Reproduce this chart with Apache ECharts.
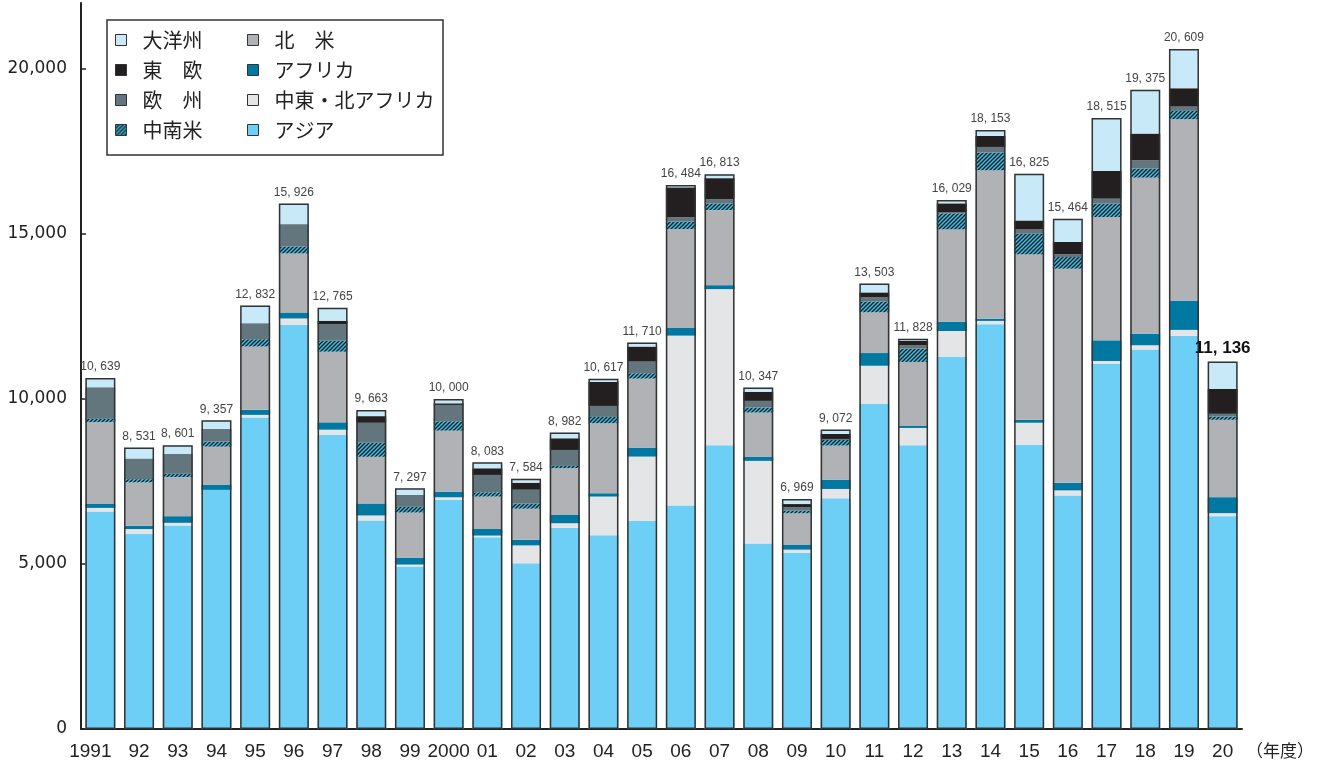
<!DOCTYPE html>
<html>
<head>
<meta charset="utf-8">
<script src="https://cdn.jsdelivr.net/npm/echarts@6/dist/echarts.min.js"></script>
<style>html,body{margin:0;padding:0;background:#fff;}#c{width:1317px;height:769px;}</style>
</head>
<body>
<div id="c"></div>
<script>
const years = ['1991','92','93','94','95','96','97','98','99','2000','01','02','03','04','05','06','07','08','09','10','11','12','13','14','15','16','17','18','19','20'];
const totals = [10639,8531,8601,9357,12832,15926,12765,9663,7297,10000,8083,7584,8982,10617,11710,16484,16813,10347,6969,9072,13503,11828,16029,18153,16825,15464,18515,19375,20609,11136];
const asia = [6588,5906,6167,7246,9438,12248,8918,6319,4922,6941,5811,5019,6094,5872,6306,6769,8602,5620,5335,6991,9846,8598,11272,12266,8613,7079,11071,11497,11912,6450];
const mena = [112,152,81,0,81,192,152,152,61,81,50,545,141,1172,1949,5151,4727,2505,100,283,1162,525,788,100,667,152,81,131,182,91];
const africa = [121,100,202,161,152,182,222,364,212,172,202,172,252,100,273,232,121,131,141,283,384,61,283,70,91,232,626,354,889,485];
const northAmerica = [2476,1313,1182,1151,1919,1788,2141,1414,1364,1848,980,939,1414,2121,2091,3000,2273,1333,960,1030,1232,1939,2798,4495,5010,6485,3737,4727,5495,2343];
const latinAmerica = [100,100,100,152,222,212,333,424,172,283,131,152,70,192,161,222,202,152,81,172,333,404,485,535,626,354,404,273,252,100];
const europe = [960,627,606,384,485,677,505,606,364,495,525,424,485,333,354,131,131,202,100,30,121,100,40,172,131,81,152,252,131,81];
const easternEurope = [0,0,0,0,0,0,100,202,0,50,202,212,354,727,455,909,636,273,100,152,152,131,263,333,273,374,838,808,556,758];
const oceania = [282,333,263,263,535,627,394,182,202,130,182,121,172,100,121,70,121,131,152,131,273,70,100,182,1414,707,1606,1333,1192,828];
const yTicks = [0,5000,10000,15000,20000];

// hatch pattern for 中南米
const pc = document.createElement('canvas');
pc.width = 4; pc.height = 4;
const g = pc.getContext('2d');
g.fillStyle = '#3dbfea'; g.fillRect(0,0,4,4);
g.strokeStyle = '#1c1c1c'; g.lineWidth = 1.3;
[[0,4,4,0],[-1,1,1,-1],[3,5,5,3]].forEach(l=>{g.beginPath();g.moveTo(l[0],l[1]);g.lineTo(l[2],l[3]);g.stroke();});
const hatch = {image: pc, repeat: 'repeat'};

const NUM_FONT = '"Liberation Sans","Arial",sans-serif';

const stackDefs = [
  ['アジア', asia, '#6dcff5'],
  ['中東・北アフリカ', mena, '#e4e5e7'],
  ['アフリカ', africa, '#0078a2'],
  ['北　米', northAmerica, '#b1b2b6'],
  ['中南米', latinAmerica, hatch],
  ['欧　州', europe, '#63767e'],
  ['東　欧', easternEurope, '#231f20'],
  ['大洋州', oceania, '#c8eaf8']
];
const sums = years.map((_, i) => stackDefs.reduce((s, d) => s + d[1][i], 0));

const series = stackDefs.map(d => ({
  name: d[0], type: 'bar', stack: 'all', data: d[1], barWidth: 30, barGap: '-100%',
  itemStyle: {color: d[2]}, silent: true
}));
series.push({
  name: 'total', type: 'bar', data: sums, barWidth: 30, barGap: '-100%', silent: true,
  itemStyle: {color: 'rgba(0,0,0,0)', borderColor: '#333', borderWidth: 1.5},
  label: {
    show: true, position: 'top', distance: 5,
    fontFamily: NUM_FONT, fontSize: 12, color: '#444',
    formatter: p => {
      const s = totals[p.dataIndex].toLocaleString('en-US').replace(',', ', ');
      return p.dataIndex === totals.length - 1 ? '{b|' + s + '}' : s;
    },
    rich: {b: {fontFamily: NUM_FONT, fontSize: 17, fontWeight: 'bold', color: '#111'}}
  }
});

const legendText = {fontFamily: '"Noto Sans CJK JP",sans-serif', fontSize: 20, color: '#222', lineHeight: 22, padding: [0,0,0,11]};
const legendCommon = {orient: 'vertical', top: 29, itemWidth: 11, itemHeight: 11, itemGap: 8, padding: 0, icon: 'rect',
  itemStyle: {borderColor: '#333', borderWidth: 1}, textStyle: legendText, selectedMode: false};

const chart = echarts.init(document.getElementById('c'), null, {renderer: 'canvas'});
chart.setOption({
  animation: false,
  backgroundColor: '#fff',
  grid: {left: 81, right: 72, top: 3, bottom: 40},
  graphic: [{type: 'rect', z: 0, shape: {x: 107, y: 20, width: 336, height: 135},
    style: {fill: '#fff', stroke: '#333', lineWidth: 1.5}}],
  legend: [
    Object.assign({left: 115, data: ['大洋州','東　欧','欧　州','中南米']}, legendCommon),
    Object.assign({left: 247, data: ['北　米','アフリカ','中東・北アフリカ','アジア']}, legendCommon)
  ],
  xAxis: {
    type: 'category', data: years, boundaryGap: true,
    axisLine: {lineStyle: {color: '#222', width: 2}},
    axisTick: {inside: true, length: 5, lineStyle: {color: '#222', width: 1.5}},
    axisLabel: {interval: 0, margin: 13, fontFamily: NUM_FONT, fontSize: 19, color: '#222',
      formatter: (v, i) => i === 0 ? '{a|' + v + '}' : v,
      rich: {a: {fontFamily: NUM_FONT, fontSize: 19, color: '#222', padding: [0,20,0,0]}}},
    name: '（年度）', nameLocation: 'end', nameGap: 4,
    nameTextStyle: {fontFamily: '"Noto Sans CJK JP",sans-serif', fontSize: 17, color: '#222', verticalAlign: 'top', padding: [13,0,0,0]}
  },
  yAxis: {
    type: 'value', min: 0, max: 22000, interval: 5000,
    axisLine: {show: true, lineStyle: {color: '#222', width: 2}},
    axisTick: {show: true, inside: true, length: 5, customValues: yTicks, lineStyle: {color: '#222', width: 1.5}},
    splitLine: {show: false},
    axisLabel: {customValues: yTicks, margin: 14, fontFamily: '"DejaVu Sans",sans-serif', fontSize: 17, color: '#222',
      formatter: v => v.toLocaleString('en-US')}
  },
  series: series
});
</script>
</body>
</html>
